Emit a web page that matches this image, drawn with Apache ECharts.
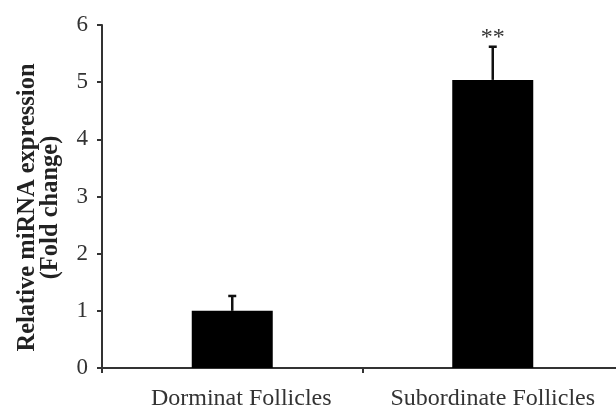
<!DOCTYPE html>
<html>
<head>
<meta charset="utf-8">
<script src="https://cdn.jsdelivr.net/npm/echarts@6/dist/echarts.min.js"></script>
<style>html,body{margin:0;padding:0;background:#fff}#c{width:616px;height:407px}</style>
</head>
<body>
<div id="c"></div>
<script>
var categories = ['Dorminat Follicles', 'Subordinate Follicles'];
var values = [1.0, 5.04];
var errors = [0.26, 0.58];
var sigLabels = ['', '**'];
var yTicks = [0, 1, 2, 3, 4, 5, 6];

var chart = echarts.init(document.getElementById('c'), null, {renderer: 'canvas'});
var font = 'Liberation Serif';
var axisColor = '#333';
chart.setOption({
  animation: false,
  grid: {left: 102, width: 521, top: 25, bottom: 39, outerBoundsMode: 'none', containLabel: false},
  xAxis: {
    type: 'category',
    data: categories,
    axisLine: {lineStyle: {color: axisColor, width: 2}},
    axisTick: {show: true, interval: 0, length: 5, lineStyle: {color: axisColor, width: 2}},
    axisLabel: {
      color: '#333', fontFamily: font, fontSize: 24, margin: 19, interval: 0,
      formatter: function (v, idx) { return idx === 0 ? '{s|' + v + '}' : v; },
      rich: {s: {fontFamily: font, fontSize: 24, color: '#333', padding: [0, 0, 0, 18]}}
    }
  },
  yAxis: {
    type: 'value',
    min: 0, max: 6, interval: 1,
    name: 'Relative miRNA expression\n(Fold change)',
    nameLocation: 'middle',
    nameGap: 40,
    nameRotate: 90,
    nameTextStyle: {color: '#222', fontFamily: font, fontSize: 24.5, fontWeight: 'bold', lineHeight: 23, align: 'center', padding: [0, 22, 0, 0]},
    axisLine: {show: true, lineStyle: {color: axisColor, width: 2}},
    axisTick: {show: true, length: 5, lineStyle: {color: axisColor, width: 2}},
    splitLine: {show: false},
    axisLabel: {color: '#333', fontFamily: font, fontSize: 23, margin: 14,
      formatter: function (v) { return yTicks.indexOf(v) >= 0 ? String(v) : ''; }}
  },
  series: [
    {
      type: 'bar',
      data: values,
      barWidth: 81,
      itemStyle: {color: '#000'},
      z: 2
    },
    {
      type: 'custom',
      data: values.map(function (v, i) { return [i, v, v + errors[i]]; }),
      z: 3,
      renderItem: function (params, api) {
        var i = api.value(0);
        var base = api.coord([i, api.value(1)]);
        var top = api.coord([i, api.value(2)]);
        var capW = 4;
        var children = [
          {type: 'line', shape: {x1: base[0], y1: base[1], x2: top[0], y2: top[1]}, style: {stroke: '#111', lineWidth: 2.5}},
          {type: 'line', shape: {x1: top[0] - capW, y1: top[1], x2: top[0] + capW, y2: top[1]}, style: {stroke: '#111', lineWidth: 2.5}}
        ];
        var s = sigLabels[params.dataIndex];
        if (s) {
          children.push({type: 'text', style: {text: s, x: top[0], y: top[1] - 9, align: 'center', verticalAlign: 'middle', fill: '#333', font: '24px "Liberation Serif"'}});
        }
        return {type: 'group', children: children};
      }
    }
  ]
});
</script>
</body>
</html>
